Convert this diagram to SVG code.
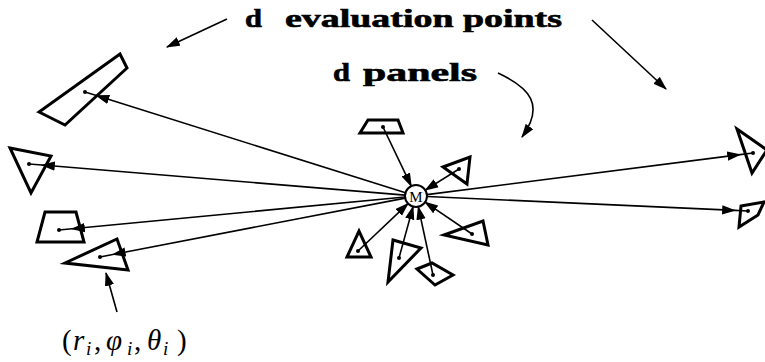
<svg xmlns="http://www.w3.org/2000/svg" width="765" height="362" viewBox="0 0 765 362">
<style>
.panel{fill:none;stroke:#000;stroke-width:3;stroke-linejoin:miter}
.ln{fill:none;stroke:#000;stroke-width:1.6}
.dot{fill:#000}
.lbl{font-family:"Liberation Serif","DejaVu Serif",serif;font-weight:bold;font-size:25px;fill:#000;stroke:#000;stroke-width:0.6}
.f{font-family:"Liberation Serif","DejaVu Serif",serif;fill:#000}
</style>
<defs>
<marker id="ah" markerUnits="userSpaceOnUse" markerWidth="14" markerHeight="10" refX="11" refY="4" orient="auto" viewBox="0 0 12 8">
<path d="M0,0 L12,4 L0,8 Z" fill="#000"/>
</marker>
</defs>
<rect width="765" height="362" fill="#fff"/>
<g id="labels">
<text class="lbl" x="245" y="27" textLength="17" lengthAdjust="spacingAndGlyphs">d</text>
<text class="lbl" x="285" y="27" textLength="277" lengthAdjust="spacingAndGlyphs">evaluation points</text>
<text class="lbl" x="333" y="81" textLength="17" lengthAdjust="spacingAndGlyphs">d</text>
<text class="lbl" x="363" y="81" textLength="114" lengthAdjust="spacingAndGlyphs">panels</text>
<text class="f" y="350" font-size="29"><tspan x="62">(</tspan><tspan x="73" font-style="italic">r</tspan><tspan x="86" y="355" font-size="19" font-style="italic">i</tspan><tspan x="94" y="350">,</tspan><tspan x="106" font-style="italic">φ</tspan><tspan x="127" y="355" font-size="19" font-style="italic">i</tspan><tspan x="134" y="350">,</tspan><tspan x="147" font-style="italic">θ</tspan><tspan x="163" y="355" font-size="19" font-style="italic">i</tspan><tspan x="177" y="350">)</tspan></text>
</g>
<g id="panels">
<g id="p-topleft"><polygon class="panel" points="39,112 65,125 127,68 120,54"/><circle class="dot" cx="85" cy="92" r="2"/></g>
<g id="p-lefttri"><polygon class="panel" points="10,148 51,156 31,193"/><circle class="dot" cx="29" cy="164" r="2"/></g>
<g id="p-lefttrap"><polygon class="panel" points="45,212 76,212 84,242 37,242"/><circle class="dot" cx="59" cy="230" r="2"/></g>
<g id="p-lowtri"><polygon class="panel" points="65,263 117,239 128,270"/><circle class="dot" cx="100" cy="257" r="2"/></g>
<g id="p-righttri"><polygon class="panel" points="737,129 767,150 752,173"/><circle class="dot" cx="753" cy="153" r="2"/></g>
<g id="p-rightquad"><polygon class="panel" points="741,206 764,202 758,215 739,227"/><circle class="dot" cx="748" cy="211" r="2"/></g>
<g id="c-toptrap"><polygon class="panel" points="360,133 403,133 398,120 368,120"/><circle class="dot" cx="383" cy="127" r="2"/></g>
<g id="c-urtri"><polygon class="panel" points="443,167 470,157 467,184"/><circle class="dot" cx="459" cy="169" r="2"/></g>
<g id="c-lrtri"><polygon class="panel" points="444,235 483,221 488,245"/><circle class="dot" cx="472" cy="234" r="2"/></g>
<g id="c-lltri"><polygon class="panel" points="347,257 359,231 371,257"/><circle class="dot" cx="358" cy="251" r="2"/></g>
<g id="c-talltri"><polygon class="panel" points="388,282 393,240 421,248"/><circle class="dot" cx="399" cy="258" r="2"/></g>
<g id="c-quad"><polygon class="panel" points="417,269 432,263 453,275 435,285"/><circle class="dot" cx="433" cy="275" r="2"/></g>
</g>
<g id="connectors">
<polyline class="ln" points="405.5,192.7 96.4,95.6 85,92" marker-mid="url(#ah)"/>
<polyline class="ln" points="405,195.1 42,165 29,164" marker-mid="url(#ah)"/>
<polyline class="ln" points="405,197 72,228.8 59,230" marker-mid="url(#ah)"/>
<polyline class="ln" points="405.2,198.1 112.8,254.5 100,257" marker-mid="url(#ah)"/>
<polyline class="ln" points="426.9,194.6 740.1,154.6 753,153" marker-mid="url(#ah)"/>
<polyline class="ln" points="427,196.5 735,210.4 748,211" marker-mid="url(#ah)"/>
<line class="ln" x1="383" y1="127" x2="411.3" y2="186.1" marker-end="url(#ah)"/>
<line class="ln" x1="459" y1="169" x2="425.3" y2="190.1" marker-end="url(#ah)"/>
<line class="ln" x1="472" y1="234" x2="425.1" y2="202.2" marker-end="url(#ah)"/>
<line class="ln" x1="358" y1="251" x2="408" y2="203.6" marker-end="url(#ah)"/>
<line class="ln" x1="399" y1="258" x2="413.1" y2="206.6" marker-end="url(#ah)"/>
<line class="ln" x1="433" y1="275" x2="418.3" y2="206.8" marker-end="url(#ah)"/>
<line class="ln" x1="227" y1="19" x2="167" y2="47" marker-end="url(#ah)"/>
<line class="ln" x1="592" y1="20" x2="666" y2="89" marker-end="url(#ah)"/>
<path class="ln" d="M498,73 C530,88 545,105 522,137" marker-end="url(#ah)"/>
<line class="ln" x1="117" y1="312" x2="106" y2="273" marker-end="url(#ah)"/>
</g>
<g id="M">
<circle cx="416" cy="196" r="11" fill="#fff" stroke="#000" stroke-width="2"/>
<text x="416" y="201.5" text-anchor="middle" class="f" font-size="15">M</text>
</g>
</svg>
